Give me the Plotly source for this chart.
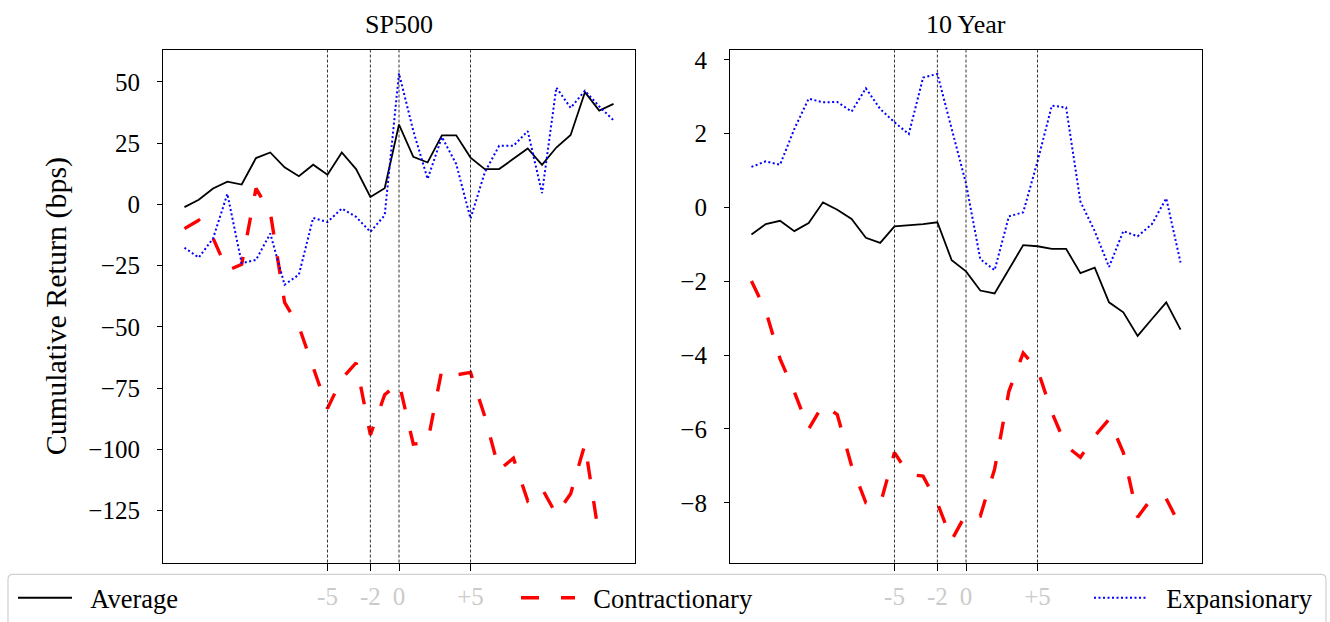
import plotly.graph_objects as go

# Event window (trading days relative to the announcement)
days = list(range(-15, 16))

# SP500 cumulative returns (bps)
sp_average = [-1.1, 1.9, 6.5, 9.3, 8.1, 18.9, 21.2, 15.1, 11.5, 16.2, 12.1, 21.2, 14.4, 3.0, 6.6,
              32.6, 19.4, 17.1, 28.2, 28.2, 19.1, 14.4, 14.4, 18.5, 22.8, 16.1, 23.2, 28.3, 45.8, 38.3, 41.0]
sp_contractionary = [-9.9, -6.5, -13.8, -27.0, -24.5, 6.5, -3.2, -40.0, -49.8, -66.7, -83.3, -71.2, -64.7, -94.1, -77.7,
                     -72.8, -97.9, -97.1, -67.4, -69.6, -68.6, -86.6, -108.4, -103.6, -121.0, -116.0, -126.6, -118.1,
                     -97.9, -136.2, None]
sp_expansionary = [-17.7, -21.7, -13.9, 4.3, -24.0, -22.7, -11.9, -32.8, -28.7, -5.5, -7.2, -1.7, -5.1, -11.2, -4.4,
                   53.5, 30.0, 10.4, 27.5, 16.5, -5.8, 13.1, 23.9, 23.9, 29.9, 4.6, 47.7, 39.4, 46.4, 40.0, 34.3]

# 10 Year cumulative returns (bps)
ty_average = [-0.73, -0.45, -0.36, -0.64, -0.42, 0.14, -0.06, -0.31, -0.82, -0.96, -0.51, -0.48, -0.45, -0.40, -1.43,
              -1.73, -2.25, -2.33, -1.67, -1.02, -1.05, -1.12, -1.12, -1.78, -1.63, -2.57, -2.84, -3.48, -3.02, -2.57, -3.31]
ty_contractionary = [-1.99, -2.8, -4.1, -5.0, -6.0, -5.34, -5.61, -7.0, -8.0, -8.05, -6.64, -7.23, -7.28, -8.01, -9.01,
                     -8.3, -8.36, -7.09, -4.98, -3.94, -4.39, -5.55, -6.46, -6.77, -6.19, -5.74, -6.64, -8.39, -7.87,
                     -7.89, -8.65]
ty_expansionary = [1.10, 1.25, 1.16, 2.13, 2.95, 2.85, 2.86, 2.60, 3.23, 2.67, 2.31, 1.99, 3.52, 3.62, 2.13,
                   0.65, -1.40, -1.70, -0.24, -0.13, 1.25, 2.76, 2.71, 0.16, -0.64, -1.61, -0.64, -0.78, -0.45, 0.25, -1.49]

# Marked event days and their tick labels
event_days = [-5, -2, 0, 5]
event_labels = ["-5", "-2", "0", "+5"]

sp_yticks = [50, 25, 0, -25, -50, -75, -100, -125]
ty_yticks = [4, 2, 0, -2, -4, -6, -8]

series_names = ["Average", "Contractionary", "Expansionary"]
FONT = "Liberation Serif"
W, H = 1330, 622
PAD = "\u00a0\u00a0"  # gap between legend sample and its label

styles = {
    "Average": dict(color="black", width=1.8, dash="solid"),
    "Contractionary": dict(color="#ff0000", width=3.4, dash="18px,22px"),
    "Expansionary": dict(color="#0000ff", width=2.0, dash="2px,2.5px"),
}
legend_ids = {"Average": "legend", "Contractionary": "legend2", "Expansionary": "legend3"}

fig = go.Figure()

panels = [
    ("x", "y", [sp_average, sp_contractionary, sp_expansionary], True),
    ("x2", "y2", [ty_average, ty_contractionary, ty_expansionary], False),
]
for xa, ya, series, show in panels:
    for name, vals in zip(series_names, series):
        fig.add_trace(go.Scatter(
            x=days, y=vals, mode="lines", name=PAD + name,
            line=styles[name], xaxis=xa, yaxis=ya,
            showlegend=show, legend=legend_ids[name], connectgaps=False,
        ))

# Dashed vertical markers at the event days
for xref, yref in [("x", "y domain"), ("x2", "y2 domain")]:
    for d in event_days:
        fig.add_shape(type="line", xref=xref, yref=yref, x0=d, x1=d, y0=0, y1=1,
                      line=dict(color="black", width=0.8, dash="3px,2px"), layer="above")

# Legend frame spanning the figure width
lx0, lx1, ly0, ly1, r = 8, 1326, 577, 640, 5
def px(x): return x / W
def py(y): return 1 - y / H
path = (f"M {px(lx0)},{py(ly1)} L {px(lx0)},{py(ly0 + r)} Q {px(lx0)},{py(ly0)} {px(lx0 + r)},{py(ly0)} "
        f"L {px(lx1 - r)},{py(ly0)} Q {px(lx1)},{py(ly0)} {px(lx1)},{py(ly0 + r)} L {px(lx1)},{py(ly1)}")
fig.add_shape(type="path", xref="paper", yref="paper", path=path,
              line=dict(color="#d0d0d0", width=1.2), fillcolor="rgba(255,255,255,0.8)", layer="below")

xaxis_common = dict(
    range=[-16.5, 16.5], tickmode="array", tickvals=event_days, ticktext=event_labels,
    ticks="outside", ticklen=7, tickwidth=1, tickcolor="black", ticklabelstandoff=4,
    showline=True, linecolor="black", linewidth=1.2, mirror=True,
    showgrid=False, zeroline=False,
    tickfont=dict(family=FONT, size=25, color="#cbcbcb"),
)
yaxis_common = dict(
    ticks="outside", ticklen=5, tickwidth=1, tickcolor="black", ticklabelstandoff=12,
    showline=True, linecolor="black", linewidth=1.2, mirror=True,
    showgrid=False, zeroline=False,
    tickfont=dict(family=FONT, size=25, color="black"),
    domain=[1 - 565 / H, 1 - 47 / H],
)

fig.update_layout(
    width=W, height=H, autosize=False,
    margin=dict(l=0, r=0, t=0, b=0),
    paper_bgcolor="white", plot_bgcolor="white",
    font=dict(family=FONT, size=25, color="black"),
    xaxis=dict(domain=[163 / W, 635 / W], anchor="y", **xaxis_common),
    xaxis2=dict(domain=[730 / W, 1202 / W], anchor="y2", **xaxis_common),
    yaxis=dict(anchor="x", range=[-146.2, 63.2], tickvals=sp_yticks,
               title=dict(text="Cumulative Return (bps)", font=dict(family=FONT, size=30), standoff=12),
               **yaxis_common),
    yaxis2=dict(anchor="x2", range=[-9.62, 4.28], tickvals=ty_yticks, **yaxis_common),
    annotations=[
        dict(text="SP500", x=(163 + 635) / 2 / W, y=1 - 22 / H, xref="paper", yref="paper",
             showarrow=False, font=dict(family=FONT, size=26), xanchor="center", yanchor="middle"),
        dict(text="10 Year", x=(730 + 1202) / 2 / W, y=1 - 22 / H, xref="paper", yref="paper",
             showarrow=False, font=dict(family=FONT, size=26), xanchor="center", yanchor="middle"),
    ],
)

legend_common = dict(bgcolor="rgba(0,0,0,0)", borderwidth=0, orientation="h",
                     yanchor="middle", xanchor="left", y=1 - 601 / H,
                     font=dict(family=FONT, size=26.5, color="black"), itemwidth=54)
fig.update_layout(
    legend=dict(x=13 / W, **legend_common),
    legend2=dict(x=516 / W, **legend_common),
    legend3=dict(x=1089 / W, **legend_common),
)

fig.write_html("out.html")
